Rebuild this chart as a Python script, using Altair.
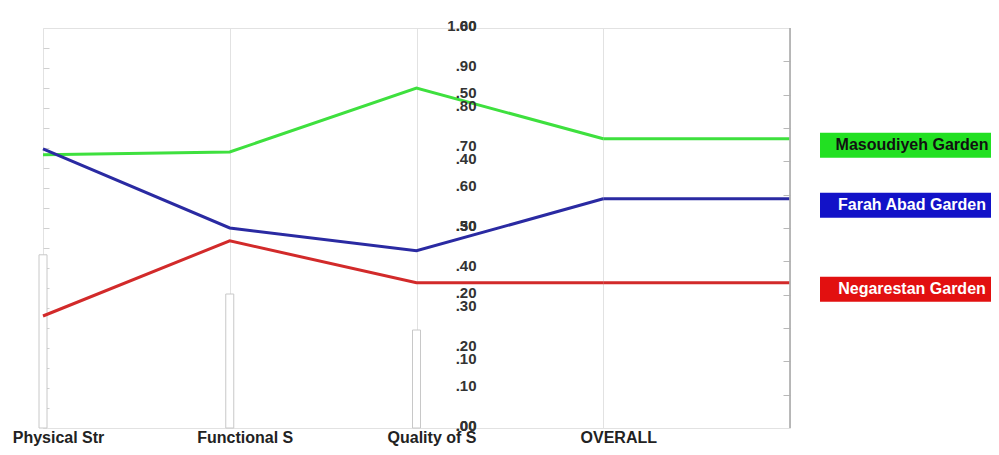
import altair as alt
import pandas as pd

# ---------------- data ----------------
categories = ["Physical Str", "Functional S", "Quality of S", "OVERALL"]
series = ["Masoudiyeh Garden", "Farah Abad Garden", "Negarestan Garden"]
masoudiyeh = [0.683, 0.690, 0.850, 0.723]
farah_abad = [0.698, 0.500, 0.443, 0.573]
negarestan = [0.280, 0.468, 0.363, 0.363]
bar_values = [0.433, 0.335, 0.245]          # thin bars at the first three axes

scale_a_values = [0.0, 0.1, 0.2, 0.3, 0.4, 0.5, 0.6, 0.7, 0.8, 0.9, 1.0]
scale_a_labels = [".00", ".10", ".20", ".30", ".40", ".50", ".60", ".70", ".80", ".90", "1.00"]
scale_b_values = [0.0, 0.1, 0.2, 0.3, 0.4, 0.5, 0.6]
scale_b_labels = [".00", ".10", ".20", ".30", ".40", ".50", ".60"]
scale_b_max = 0.6

line_colors = ["#3ee03e", "#2a2aa2", "#d22a2a"]
box_colors = ["#22e022", "#1212c8", "#e21010"]

# ---------------- tables ----------------
rows = []
for name, vals in zip(series, [masoudiyeh, farah_abad, negarestan]):
    for i, v in enumerate(vals):
        rows.append({"series": name, "pos": i, "cat": categories[i], "value": v})
lines_df = pd.DataFrame(rows)
last_pos = len(categories) - 1
overall_df = lines_df[lines_df["pos"] == last_pos]

bars_df = pd.DataFrame({"pos": list(range(len(bar_values))), "value": bar_values})

lab_rows = [{"p": v, "label": l} for v, l in zip(scale_a_values, scale_a_labels)]
lab_rows += [{"p": v / scale_b_max, "label": l} for v, l in zip(scale_b_values, scale_b_labels)]
labels_df = pd.DataFrame(lab_rows)

# ---------------- chart ----------------
FONT = "Liberation Sans"
W, H = 747, 400
x_max = len(categories)
xscale = alt.Scale(domain=[0, x_max], nice=False, zero=False, padding=0)
yscale = alt.Scale(domain=[0, 1], nice=False, padding=0)

label_expr = "[" + ",".join("'%s'" % c for c in categories) + "][datum.value]"
x_axis = alt.Axis(
    values=list(range(len(categories))), labelExpr=label_expr, grid=True,
    gridColor="#e2e2e2", domain=False, ticks=False, labelFont=FONT,
    labelFontWeight="bold", labelFontSize=16, labelColor="#222222",
    labelOffset=15, labelPadding=1, labelFlush=False, labelOverlap=False, title=None,
)
left_axis = alt.Axis(
    orient="left", offset=-6, tickSize=6, domain=False, labels=False, grid=False,
    title=None, values=[round(i * 0.05, 2) for i in range(1, 20)], tickColor="#d0d0d0",
)
right_axis = alt.Axis(
    orient="right", offset=-7, tickSize=7, domain=False, labels=False, grid=False,
    title=None, values=[k / 12 for k in range(1, 12)], tickColor="#b8b8b8",
)

X = lambda field: alt.X(field, scale=xscale, axis=x_axis)

bars = alt.Chart(bars_df).mark_bar(size=8, fill="white", stroke="#c8c8c8", strokeWidth=1).encode(
    x=X("pos:Q"),
    y=alt.Y("value:Q", scale=yscale, axis=left_axis),
)

stroke_enc = alt.Stroke("series:N", scale=alt.Scale(domain=series, range=line_colors), legend=None)

lines = alt.Chart(lines_df).mark_line(strokeWidth=3).encode(
    x=X("pos:Q"),
    y=alt.Y("value:Q", scale=yscale, axis=right_axis),
    stroke=stroke_enc,
    order="pos:Q",
)

ext = alt.Chart(overall_df).mark_rule(strokeWidth=3).encode(
    x=X("pos:Q"),
    x2=alt.X2Datum(x_max),
    y=alt.Y("value:Q", scale=yscale, axis=None),
    stroke=stroke_enc,
)

right_edge = alt.Chart(bars_df).mark_rule(color="#b0b0b0", strokeWidth=1).encode(
    x=alt.XDatum(x_max, scale=xscale, axis=x_axis),
    y=alt.value(0),
    y2=alt.value(H),
)

scale_labels = alt.Chart(labels_df).mark_text(
    align="right", baseline="middle", dx=60, dy=-2, font=FONT,
    fontWeight="bold", fontSize=15, color="#333333",
).encode(
    x=alt.XDatum(categories.index("Quality of S"), scale=xscale, axis=x_axis),
    y=alt.Y("p:Q", scale=yscale, axis=None),
    text="label:N",
)

boxes = alt.Chart(overall_df).mark_rect(yOffset=-6, y2Offset=19).encode(
    x=alt.value(777),
    x2=alt.value(962),
    y=alt.Y("value:Q", scale=yscale, axis=None),
    y2="value:Q",
    fill=alt.Fill("series:N", scale=alt.Scale(domain=series, range=box_colors), legend=None),
)

box_text = alt.Chart(overall_df).mark_text(
    align="center", baseline="middle", dy=6.5, font=FONT, fontWeight="bold", fontSize=16,
).encode(
    x=alt.value(869),
    y=alt.Y("value:Q", scale=yscale, axis=None),
    text="series:N",
    color=alt.condition(alt.datum.series == series[0], alt.value("#111111"), alt.value("#ffffff")),
)

chart = (
    alt.layer(bars, lines, ext, right_edge, scale_labels, boxes, box_text)
    .resolve_axis(y="independent")
    .properties(
        width=W, height=H,
        autosize=alt.AutoSizeParams(type="none"),
        padding={"left": 35, "top": 20, "right": 201, "bottom": 19},
        background="white",
    )
    .configure_view(stroke="#e2e2e2", strokeWidth=1)
)

chart.save("out.html", embed_options={"renderer": "svg", "actions": False})
